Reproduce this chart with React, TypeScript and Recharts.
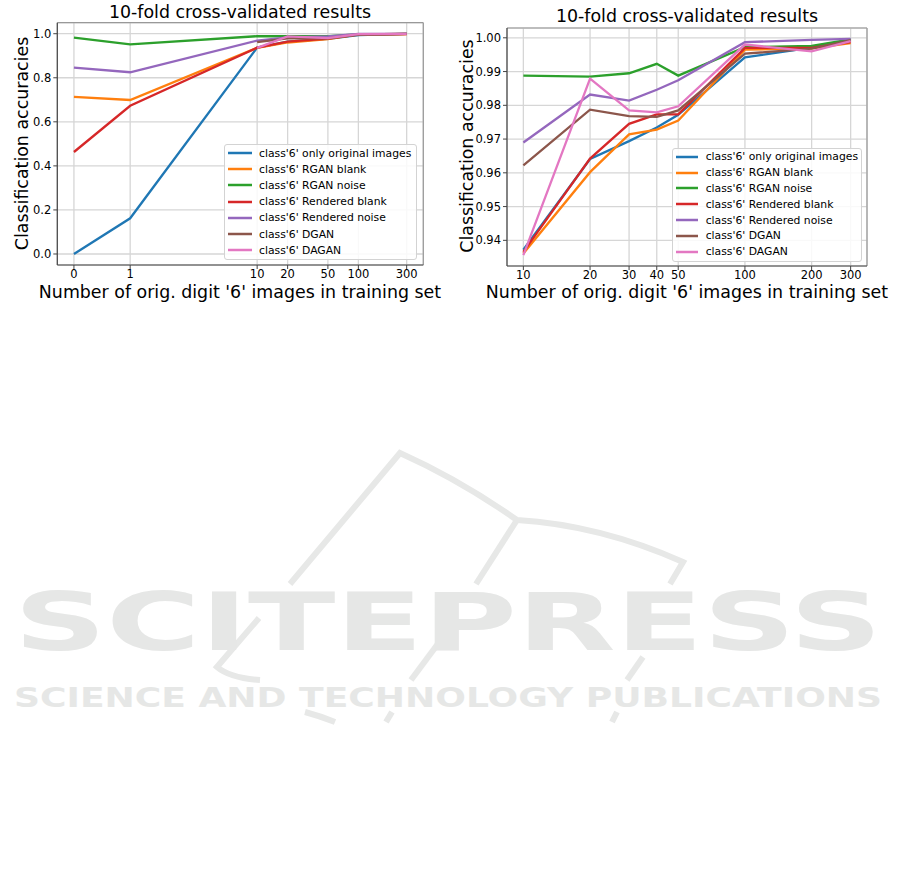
import React from "react";
import { LineChart, Line, XAxis, YAxis, CartesianGrid, ReferenceLine, Legend } from "recharts";

const seriesNames = [
  "class'6' only original images",
  "class'6' RGAN blank",
  "class'6' RGAN noise",
  "class'6' Rendered blank",
  "class'6' Rendered noise",
  "class'6' DGAN",
  "class'6' DAGAN",
];
const seriesColors = ["#1f77b4", "#ff7f0e", "#2ca02c", "#d62728", "#9467bd", "#8c564b", "#e377c2"];

// left chart: symlog x axis
const leftCounts = [0, 1, 10, 20, 50, 100, 300];
const leftOriginal = [0.0, 0.162, 0.9372, 0.9641, 0.9772, 0.9942, 0.9994];
const leftRganBlank = [0.713, 0.699, 0.9361, 0.9602, 0.9755, 0.9965, 0.9984];
const leftRganNoise = [0.982, 0.952, 0.9888, 0.9885, 0.9888, 0.9972, 0.9995];
const leftRenderedBlank = [0.463, 0.673, 0.9366, 0.9642, 0.9773, 0.997, 0.9987];
const leftRenderedNoise = [0.846, 0.825, 0.969, 0.9832, 0.9874, 0.9987, 0.9997];
const leftDgan = [null, null, 0.9622, 0.9787, 0.9785, 0.9953, 0.9993];
const leftDagan = [null, null, 0.9356, 0.9879, 0.9797, 0.998, 0.999];
const leftYTicks = [0, 0.2, 0.4, 0.6, 0.8, 1.0];

// right chart: log x axis
const rightCounts = [10, 20, 30, 40, 50, 100, 200, 300];
const rightOriginal = [0.9372, 0.9641, 0.9694, 0.9734, 0.9772, 0.9942, 0.9971, 0.9994];
const rightRganBlank = [0.9361, 0.9602, 0.9714, 0.9728, 0.9755, 0.9965, 0.9969, 0.9984];
const rightRganNoise = [0.9888, 0.9885, 0.9895, 0.9923, 0.9888, 0.9972, 0.9976, 0.9995];
const rightRenderedBlank = [0.9366, 0.9642, 0.9745, 0.9773, 0.9773, 0.997, 0.997, 0.9987];
const rightRenderedNoise = [0.969, 0.9832, 0.9814, 0.9846, 0.9874, 0.9987, 0.9994, 0.9997];
const rightDgan = [0.9622, 0.9787, 0.9768, 0.9766, 0.9785, 0.9953, 0.9968, 0.9993];
const rightDagan = [0.9356, 0.9879, 0.9785, 0.9779, 0.9797, 0.998, 0.996, 0.999];
const rightYTicks = [0.94, 0.95, 0.96, 0.97, 0.98, 0.99, 1.0];

const FONT = "'DejaVu Sans', sans-serif";
const keys = seriesNames.map((_, i) => `s${i}`);

// matplotlib-style symlog, linthresh=2, linscale=1
const LINTHRESH = 2;
const LINSCALE_ADJ = 1 / (1 - 1 / 10);
const symlog = (x: number) =>
  x <= LINTHRESH ? x * LINSCALE_ADJ : LINTHRESH * (LINSCALE_ADJ + Math.log10(x / LINTHRESH));

const leftSeries = [leftOriginal, leftRganBlank, leftRganNoise, leftRenderedBlank, leftRenderedNoise, leftDgan, leftDagan];
const rightSeries = [rightOriginal, rightRganBlank, rightRganNoise, rightRenderedBlank, rightRenderedNoise, rightDgan, rightDagan];

const leftData = leftCounts.map((n, i) => {
  const row: any = { n, sx: symlog(n) };
  leftSeries.forEach((s, k) => (row[keys[k]] = s[i]));
  return row;
});
const rightData = rightCounts.map((n, i) => {
  const row: any = { n };
  rightSeries.forEach((s, k) => (row[keys[k]] = s[i]));
  return row;
});

const pad = (lo: number, hi: number): [number, number] => [lo - (hi - lo) * 0.05, hi + (hi - lo) * 0.05];
const leftXDomain = pad(symlog(0), symlog(300));
const leftXTicks = leftCounts.map(symlog);
const leftYDomain: [number, number] = [-0.05, 1.05];
const rightLogDom = pad(Math.log10(10), Math.log10(300));
const rightXDomain: [number, number] = [Math.pow(10, rightLogDom[0]), Math.pow(10, rightLogDom[1])];
const rightYDomain = pad(0.9356, 0.9997);

const tickStyle = { fill: "#000", fontSize: 11.5, fontFamily: FONT };
const gridStroke = "#d6d6d6";
const LW = 2.3;

const makeLegend = (sample: number, gap: number, rowH: number) => (props: any) => {
  const items = [...(props.payload || [])].sort(
    (a: any, b: any) => seriesNames.indexOf(a.value) - seriesNames.indexOf(b.value)
  );
  return (
    <div
      style={{
        background: "rgba(255,255,255,0.85)",
        border: "1px solid #d3d3d3",
        borderRadius: 3,
        padding: "0 4px 1px 3px",
        fontFamily: FONT,
        fontSize: 10.8,
        color: "#000",
      }}
    >
      {items.map((p: any, i: number) => (
        <div key={i} style={{ display: "flex", alignItems: "center", height: rowH, whiteSpace: "nowrap" }}>
          <svg width={sample} height={6} style={{ flexShrink: 0, marginRight: gap }}>
            <line x1={0} x2={sample} y1={3} y2={3} stroke={p.color} strokeWidth={2.5} />
          </svg>
          <span>{p.value}</span>
        </div>
      ))}
    </div>
  );
};

export default function App() {
  return (
    <div style={{ position: "absolute", left: 0, top: 0, width: 901, height: 881, background: "#fff" }}>
      <svg width={901} height={881} style={{ position: "absolute", left: 0, top: 0 }}>
        {/* watermark */}
        <g stroke="#e7e8e7" strokeWidth={6} fill="none">
          <path d="M290 584 L400 453 Q460 480 517 520 Q600 525 683 562 L670 584" />
          <path d="M517 520 L476 584" />
          <path d="M259 618 L217 667 Q230 678 260 680" />
          <path d="M443 637 L411 680" />
          <path d="M643 657 L627 680" />
          <path d="M305 712 Q320 716 335 722" />
          <path d="M392 712 L386 722" />
          <path d="M617 712 L612 722" />
        </g>
        <text x={14} y={650} textLength={868} lengthAdjust="spacingAndGlyphs" fontFamily={FONT} fontWeight="bold" fontSize={80} fill="#e6e7e6">
          SCITEPRESS
        </text>
        <text x={14} y={707} textLength={868} lengthAdjust="spacingAndGlyphs" fontFamily={FONT} fontWeight="bold" fontSize={27} fill="#e6e7e6">
          SCIENCE AND TECHNOLOGY PUBLICATIONS
        </text>

        {/* left titles */}
        <text x={240} y={17.5} textAnchor="middle" fontFamily={FONT} fontSize={17.4} fill="#000">
          10-fold cross-validated results
        </text>
        <text x={240} y={298} textAnchor="middle" fontFamily={FONT} fontSize={17.4} fill="#000">
          Number of orig. digit '6' images in training set
        </text>
        <text x={28} y={143.5} textAnchor="middle" transform="rotate(-90 28 143.5)" fontFamily={FONT} fontSize={17.4} fill="#000">
          Classification accuracies
        </text>

        {/* right titles */}
        <text x={687} y={22} textAnchor="middle" fontFamily={FONT} fontSize={17.4} fill="#000">
          10-fold cross-validated results
        </text>
        <text x={687} y={298} textAnchor="middle" fontFamily={FONT} fontSize={17.4} fill="#000">
          Number of orig. digit '6' images in training set
        </text>
        <text x={472.5} y={146} textAnchor="middle" transform="rotate(-90 472.5 146)" fontFamily={FONT} fontSize={17.4} fill="#000">
          Classification accuracies
        </text>
      </svg>

      {/* left chart */}
      <div style={{ position: "absolute", left: 0, top: 0 }}>
        <LineChart width={450} height={310} data={leftData} margin={{ top: 22.7, right: 26.7, left: 0, bottom: 0 }}>
          <CartesianGrid stroke={gridStroke} strokeWidth={1.3} />
          <XAxis
            dataKey="sx"
            type="number"
            domain={leftXDomain}
            ticks={leftXTicks}
            interval={0}
            tickFormatter={(v: number) => String(leftCounts[leftXTicks.findIndex((t) => Math.abs(t - v) < 1e-6)])}
            tick={tickStyle}
            tickSize={4}
            tickMargin={1}
            height={45}
            axisLine={{ stroke: "#444", strokeWidth: 1.2 }}
            tickLine={{ stroke: "#444" }}
          />
          <YAxis
            type="number"
            domain={leftYDomain}
            ticks={leftYTicks}
            interval={0}
            tickFormatter={(v: number) => v.toFixed(1)}
            tick={tickStyle}
            tickSize={4}
            tickMargin={2}
            width={57.3}
            axisLine={{ stroke: "#444", strokeWidth: 1.2 }}
            tickLine={{ stroke: "#444" }}
          />
          <ReferenceLine y={leftYDomain[1]} stroke="#999" strokeWidth={1.2} />
          <ReferenceLine x={leftXDomain[1]} stroke="#999" strokeWidth={1.2} />
          {keys.map((k, i) => (
            <Line
              key={k}
              dataKey={k}
              name={seriesNames[i]}
              stroke={seriesColors[i]}
              strokeWidth={LW}
              dot={false}
              activeDot={false}
              type="linear"
              isAnimationActive={false}
            />
          ))}
          <Legend
            layout="vertical"
            align="center"
            verticalAlign="middle"
            itemSorter="dataKey"
            content={makeLegend(24, 7, 16.2)}
            wrapperStyle={{ position: "absolute", left: 224, top: 144, width: 193, height: "auto" }}
          />
        </LineChart>
      </div>

      {/* right chart */}
      <div style={{ position: "absolute", left: 450, top: 0 }}>
        <LineChart width={451} height={310} data={rightData} margin={{ top: 28, right: 34, left: 0, bottom: 0 }}>
          <CartesianGrid stroke={gridStroke} strokeWidth={1.3} />
          <XAxis
            dataKey="n"
            type="number"
            scale="log"
            domain={rightXDomain}
            ticks={rightCounts}
            interval={0}
            tick={tickStyle}
            tickSize={4}
            tickMargin={1}
            height={44}
            axisLine={{ stroke: "#444", strokeWidth: 1.2 }}
            tickLine={{ stroke: "#444" }}
          />
          <YAxis
            type="number"
            domain={rightYDomain}
            ticks={rightYTicks}
            interval={0}
            tickFormatter={(v: number) => v.toFixed(2)}
            tick={tickStyle}
            tickSize={4}
            tickMargin={2}
            width={57}
            axisLine={{ stroke: "#444", strokeWidth: 1.2 }}
            tickLine={{ stroke: "#444" }}
          />
          <ReferenceLine y={rightYDomain[1]} stroke="#999" strokeWidth={1.2} />
          <ReferenceLine x={rightXDomain[1]} stroke="#999" strokeWidth={1.2} />
          {keys.map((k, i) => (
            <Line
              key={k}
              dataKey={k}
              name={seriesNames[i]}
              stroke={seriesColors[i]}
              strokeWidth={LW}
              dot={false}
              activeDot={false}
              type="linear"
              isAnimationActive={false}
            />
          ))}
          <Legend
            layout="vertical"
            align="center"
            verticalAlign="middle"
            itemSorter="dataKey"
            content={makeLegend(22, 8, 15.8)}
            wrapperStyle={{ position: "absolute", left: 221.7, top: 148, width: 190, height: "auto" }}
          />
        </LineChart>
      </div>
    </div>
  );
}
